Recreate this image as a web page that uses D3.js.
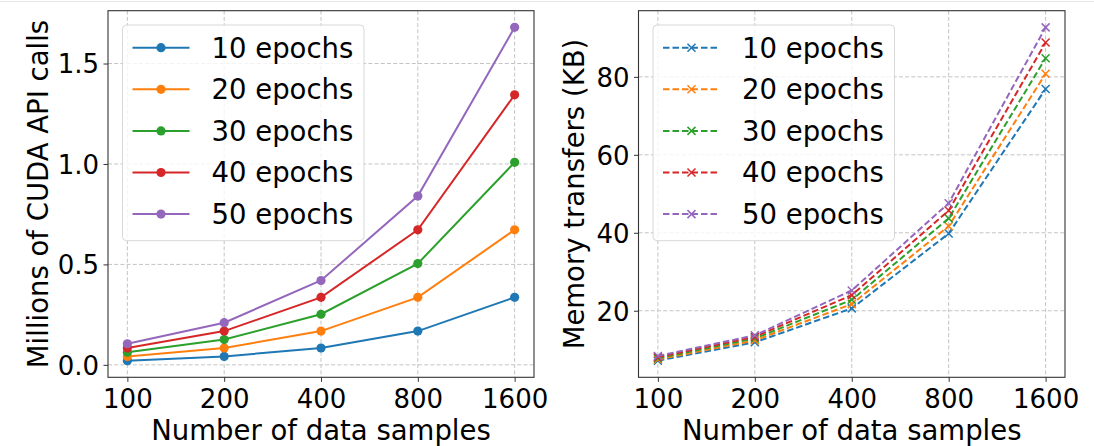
<!DOCTYPE html>
<html>
<head>
<meta charset="utf-8">
<script src="https://cdn.jsdelivr.net/npm/d3@7/dist/d3.min.js"></script>
<style>
  html, body { margin: 0; padding: 0; background: #fff; }
  svg { display: block; font-family: "DejaVu Sans", sans-serif; }
</style>
</head>
<body>
<svg id="chart" width="1094" height="446"></svg>
<script>
// ---------- data ----------
const sampleLabels = ["100", "200", "400", "800", "1600"];
const seriesNames = ["10 epochs", "20 epochs", "30 epochs", "40 epochs", "50 epochs"];
const seriesColors = ["#1f77b4", "#ff7f0e", "#2ca02c", "#d62728", "#9467bd"];

// Left: millions of CUDA API calls
const apiCalls10 = [0.021, 0.042, 0.084, 0.168, 0.336];
const apiCalls20 = [0.042, 0.084, 0.168, 0.336, 0.672];
const apiCalls30 = [0.063, 0.126, 0.252, 0.504, 1.008];
const apiCalls40 = [0.084, 0.168, 0.336, 0.672, 1.344];
const apiCalls50 = [0.105, 0.210, 0.420, 0.840, 1.680];

// Right: memory transfers (KB)
const memKB10 = [7.2, 11.9, 20.6, 39.8, 76.9];
const memKB20 = [7.5, 12.4, 21.7, 41.7, 80.8];
const memKB30 = [7.8, 12.9, 22.8, 43.7, 84.8];
const memKB40 = [8.1, 13.3, 24.0, 45.7, 88.8];
const memKB50 = [8.4, 13.7, 25.2, 47.6, 92.7];

const leftTicks = [0.0, 0.5, 1.0, 1.5];
const rightTicks = [20, 40, 60, 80];

const xTitle = "Number of data samples";
const leftTitle = "Millions of CUDA API calls";
const rightTitle = "Memory transfers (KB)";

// ---------- drawing ----------
const svg = d3.select("#chart");

svg.append("line")
  .attr("x1", 0).attr("x2", 1094).attr("y1", 1.5).attr("y2", 1.5)
  .attr("stroke", "#e8e8e8").attr("stroke-width", 1);

function drawPanel(opts) {
  const { left, top, width, height, series, ticks, tickFmt, yTitle, yTitleX, marker, dashed } = opts;
  const g = svg.append("g").attr("transform", `translate(${left},${top})`);

  const x = d3.scalePoint().domain(sampleLabels).range([0, width]).padding(0.2);
  const all = series.flat();
  const [mn, mx] = d3.extent(all);
  const pad = (mx - mn) * 0.05;
  const y = d3.scaleLinear().domain([mn - pad, mx + pad]).range([height, 0]);

  // grid
  const grid = g.append("g");
  grid.selectAll("line.gx").data(sampleLabels).enter().append("line")
    .attr("x1", d => x(d)).attr("x2", d => x(d)).attr("y1", 0).attr("y2", height)
    .attr("stroke", "#c4c4c4").attr("stroke-width", 1).attr("stroke-dasharray", "4,2.2");
  grid.selectAll("line.gy").data(ticks).enter().append("line")
    .attr("x1", 0).attr("x2", width).attr("y1", d => y(d)).attr("y2", d => y(d))
    .attr("stroke", "#c4c4c4").attr("stroke-width", 1).attr("stroke-dasharray", "4,2.2");

  // axes
  const xAxis = d3.axisBottom(x).tickSize(4.5).tickPadding(6);
  const yAxis = d3.axisLeft(y).tickValues(ticks).tickFormat(tickFmt).tickSize(4.5).tickPadding(4.5);
  const gx = g.append("g").attr("transform", `translate(0,${height})`).call(xAxis);
  const gy = g.append("g").call(yAxis);
  [gx, gy].forEach(a => {
    a.select(".domain").remove();
    a.selectAll(".tick line").attr("stroke", "#333").attr("stroke-width", 1);
    a.selectAll(".tick text").attr("fill", "#000")
      .style("font-family", "DejaVu Sans").style("font-size", "26px");
  });
  gx.selectAll(".tick text").attr("dy", "0.76em");
  gy.selectAll(".tick text").attr("dy", "0.36em");

  // lines
  const line = d3.line().x((d, i) => x(sampleLabels[i])).y(d => y(d));
  series.forEach((vals, si) => {
    const sg = g.append("g");
    sg.append("path").datum(vals)
      .attr("d", line).attr("fill", "none")
      .attr("stroke", seriesColors[si]).attr("stroke-width", 2)
      .attr("stroke-dasharray", dashed ? "6.5,3" : null);
    vals.forEach((v, i) => drawMarker(sg, marker, x(sampleLabels[i]), y(v), seriesColors[si]));
  });

  // spines
  g.append("rect").attr("x", 0).attr("y", 0).attr("width", width).attr("height", height)
    .attr("fill", "none").attr("stroke", "#333").attr("stroke-width", 1.1);

  // legend
  const lg = g.append("g").attr("transform", "translate(14.5,14.3)");
  lg.append("rect").attr("x", 0).attr("y", 0).attr("width", 241.5).attr("height", 215.7)
    .attr("rx", 4).attr("ry", 4)
    .attr("fill", "#fff").attr("fill-opacity", 0.8)
    .attr("stroke", "#d8d8d8").attr("stroke-width", 1);
  seriesNames.forEach((name, i) => {
    const ry = 22.7 + i * 41.6;
    lg.append("line").attr("x1", 10).attr("x2", 67).attr("y1", ry).attr("y2", ry)
      .attr("stroke", seriesColors[i]).attr("stroke-width", 2)
      .attr("stroke-dasharray", dashed ? "6.5,3" : null);
    drawMarker(lg, marker, 38.5, ry, seriesColors[i]);
    lg.append("text").attr("x", 89).attr("y", ry).attr("dy", "0.36em")
      .style("font-size", "27.5px").attr("fill", "#000").text(name);
  });

  // axis titles
  g.append("text").attr("x", width / 2).attr("y", 440 - top)
    .attr("text-anchor", "middle").style("font-size", "27.5px").attr("fill", "#000")
    .text(xTitle);
  g.append("text")
    .attr("transform", `translate(${yTitleX},${height / 2}) rotate(-90)`)
    .attr("text-anchor", "middle").style("font-size", "27.5px").attr("fill", "#000")
    .text(yTitle);
}

function drawMarker(sel, type, cx, cy, color) {
  if (type === "circle") {
    sel.append("circle").attr("cx", cx).attr("cy", cy).attr("r", 4.6).attr("fill", color);
  } else {
    const s = 4;
    sel.append("path")
      .attr("d", `M${cx - s},${cy - s}L${cx + s},${cy + s}M${cx - s},${cy + s}L${cx + s},${cy - s}`)
      .attr("stroke", color).attr("stroke-width", 1.5).attr("fill", "none");
  }
}

drawPanel({
  left: 108, top: 10.7, width: 426, height: 366.6,
  series: [apiCalls10, apiCalls20, apiCalls30, apiCalls40, apiCalls50],
  ticks: leftTicks, tickFmt: d3.format(".1f"),
  yTitle: leftTitle, yTitleX: -60, marker: "circle", dashed: false
});

drawPanel({
  left: 638.5, top: 10.7, width: 426.5, height: 366.6,
  series: [memKB10, memKB20, memKB30, memKB40, memKB50],
  ticks: rightTicks, tickFmt: d3.format("d"),
  yTitle: rightTitle, yTitleX: -55, marker: "x", dashed: true
});
</script>
</body>
</html>
